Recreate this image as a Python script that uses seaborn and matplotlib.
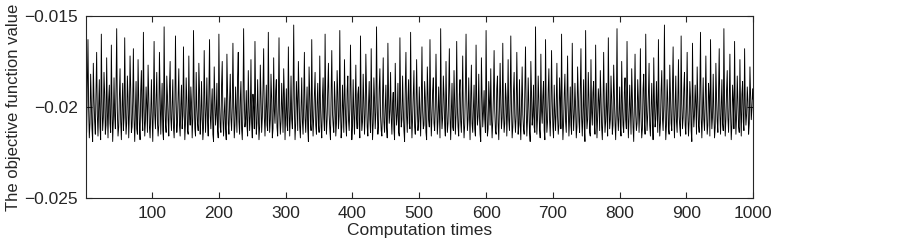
import numpy as np
import pandas as pd
import seaborn as sns
import matplotlib
matplotlib.use("Agg")
import matplotlib.pyplot as plt

# objective function value in units of -1e-4 (212 -> -0.0212)
obj_e4 = [
    205, 214, 188, 163, 201, 217, 209, 182, 198, 212, 219, 176, 195, 208, 215, 191, 170, 204, 216, 200, 185, 211, 218, 160, 197,
    213, 206, 181, 193, 215, 210, 173, 202, 217, 196, 188, 209, 214, 166, 199, 219, 207, 184, 205, 212, 190, 157, 203, 216, 211,
    194, 179, 208, 218, 200, 187, 213, 206, 162, 198, 215, 209, 183, 195, 217, 204, 172, 190, 214, 211, 197, 168, 207, 219, 202,
    186, 212, 215, 174, 196, 210, 218, 191, 180, 205, 213, 159, 200, 216, 208, 189, 199, 214, 177, 193, 211, 217, 203, 185, 206,
    219, 198, 164, 204, 212, 195, 181, 208, 216, 210, 170, 192, 215, 201, 187, 213, 218, 156, 197, 209, 214, 183, 194, 207, 216,
    190, 175, 206, 213, 199, 185, 211, 217, 203, 161, 196, 214, 208, 193, 179, 210, 216, 199, 188, 212, 205, 167, 201, 218, 209,
    184, 196, 213, 215, 172, 203, 210, 189, 198, 217, 206, 158, 194, 212, 216, 181, 200, 209, 213, 176, 191, 215, 207, 186, 204,
    218, 211, 169, 197, 214, 202, 184, 208, 216, 193, 163, 205, 212, 199, 190, 215, 219, 178, 196, 210, 204, 187, 213, 217, 160,
    199, 211, 214, 188, 175, 207, 216, 203, 195, 212, 218, 171, 192, 209, 215, 197, 182, 206, 213, 200, 165, 198, 217, 210, 189,
    203, 214, 183, 170, 208, 215, 196, 186, 212, 218, 202, 157, 195, 211, 207, 191, 210, 216, 180, 199, 213, 205, 174, 209, 217,
    193, 200, 212, 164, 197, 215, 209, 185, 203, 218, 211, 177, 194, 214, 206, 190, 168, 205, 216, 201, 188, 210, 213, 159, 198,
    214, 207, 182, 196, 217, 212, 173, 202, 209, 191, 185, 211, 216, 198, 162, 204, 215, 208, 187, 200, 214, 179, 193, 218, 205,
    190, 210, 213, 167, 199, 216, 204, 183, 207, 212, 195, 155, 201, 218, 209, 186, 196, 213, 175, 192, 211, 217, 200, 184, 208,
    215, 197, 170, 206, 214, 201, 189, 212, 219, 178, 194, 208, 213, 163, 202, 216, 205, 192, 181, 210, 215, 199, 187, 209, 214,
    172, 198, 211, 217, 195, 184, 206, 213, 160, 200, 215, 207, 190, 176, 204, 212, 218, 194, 169, 203, 210, 214, 186, 197, 216,
    209, 180, 193, 212, 205, 158, 199, 217, 211, 188, 202, 214, 174, 196, 209, 216, 191, 183, 207, 213, 201, 166, 195, 218, 210,
    185, 204, 215, 198, 177, 206, 212, 193, 189, 210, 217, 161, 200, 213, 208, 182, 197, 215, 204, 171, 192, 211, 216, 199, 186,
    207, 214, 168, 201, 218, 209, 184, 196, 212, 203, 156, 198, 215, 210, 190, 179, 205, 213, 216, 195, 173, 208, 214, 200, 188,
    211, 217, 165, 194, 209, 202, 181, 206, 215, 198, 192, 212, 218, 176, 199, 210, 204, 187, 214, 216, 162, 197, 211, 207, 183,
    200, 213, 219, 190, 170, 205, 214, 196, 185, 209, 212, 159, 201, 217, 206, 193, 180, 211, 215, 203, 174, 198, 213, 208, 189,
    204, 216, 197, 167, 202, 212, 210, 186, 195, 214, 218, 178, 193, 207, 211, 163, 199, 216, 205, 191, 184, 209, 213, 200, 171,
    196, 215, 208, 189, 203, 217, 157, 198, 212, 206, 183, 194, 210, 216, 175, 201, 214, 209, 192, 168, 205, 218, 202, 187, 211,
    213, 180, 197, 215, 204, 164, 200, 211, 216, 193, 185, 208, 214, 199, 172, 206, 217, 210, 190, 160, 196, 213, 207, 184, 203,
    218, 195, 177, 209, 214, 201, 188, 212, 216, 166, 198, 210, 205, 182, 204, 215, 219, 173, 194, 211, 203, 191, 207, 214, 158,
    199, 216, 212, 186, 197, 210, 179, 205, 217, 208, 194, 169, 202, 213, 215, 190, 183, 209, 218, 200, 176, 198, 212, 206, 165,
    201, 214, 209, 187, 195, 216, 203, 174, 207, 213, 198, 161, 200, 217, 211, 192, 181, 206, 214, 204, 170, 196, 215, 210, 185,
    209, 218, 197, 178, 204, 212, 215, 190, 167, 201, 216, 207, 184, 199, 213, 219, 175, 193, 210, 205, 188, 211, 214, 156, 198,
    215, 206, 183, 196, 212, 217, 171, 202, 209, 194, 186, 213, 218, 163, 200, 214, 208, 191, 179, 207, 216, 201, 169, 197, 211,
    217, 188, 204, 213, 199, 176, 205, 215, 210, 184, 196, 212, 160, 203, 218, 209, 193, 182, 208, 214, 197, 172, 201, 216, 206,
    189, 210, 215, 165, 198, 213, 204, 187, 200, 217, 211, 178, 194, 208, 214, 190, 168, 206, 216, 202, 185, 211, 219, 158, 199,
    212, 207, 181, 195, 214, 216, 174, 203, 210, 192, 186, 209, 215, 166, 201, 217, 205, 190, 197, 213, 180, 194, 211, 218, 202,
    170, 199, 214, 208, 187, 204, 216, 162, 198, 212, 207, 183, 196, 215, 210, 177, 193, 209, 218, 200, 157, 205, 213, 203, 189,
    211, 216, 175, 197, 210, 214, 192, 184, 207, 212, 164, 200, 217, 206, 188, 202, 215, 179, 195, 211, 219, 198, 171, 204, 213,
    209, 185, 196, 214, 201, 168, 206, 217, 212, 190, 182, 208, 215, 160, 199, 213, 204, 193, 176, 210, 216, 202, 187, 205, 218,
    173, 197, 211, 207, 186, 200, 214, 163, 203, 216, 209, 191, 180, 206, 213, 199, 155, 202, 218, 210, 185, 196, 212, 215, 177,
    194, 209, 213, 189, 167, 204, 217, 201, 183, 208, 214, 197, 174, 205, 211, 216, 161, 198, 212, 206, 190, 181, 210, 215, 199,
    170, 203, 216, 208, 186, 195, 213, 219, 165, 200, 211, 204, 188, 199, 215, 178, 196, 210, 214, 192, 159, 206, 217, 202, 184,
    207, 213, 198, 172, 201, 215, 210, 187, 194, 216, 163, 199, 212, 205, 182, 203, 217, 211, 176, 195, 208, 214, 190, 168, 204,
    215, 200, 185, 209, 213, 157, 197, 216, 207, 191, 180, 206, 214, 199, 171, 203, 218, 210, 188, 196, 212, 164, 201, 215, 205,
    183, 198, 211, 214, 174, 202, 216, 193, 186, 208, 213, 168, 199, 210, 204, 189, 197, 215, 209, 178, 194, 207, 201, 190, 196,
]
x_ticks = [100, 200, 300, 400, 500, 600, 700, 800, 900, 1000]
y_ticks = [-0.025, -0.02, -0.015]
y_labels = ["\u22120.025", "\u22120.02", "\u22120.015"]

df = pd.DataFrame({"times": np.arange(1, len(obj_e4) + 1),
                   "value": -np.array(obj_e4) / 1e4})

sns.set_style("ticks")
plt.rcParams["font.family"] = ["Liberation Sans", "DejaVu Sans"]
plt.rcParams["xtick.direction"] = "in"
plt.rcParams["ytick.direction"] = "in"

fig = plt.figure(figsize=(9.03, 2.45), dpi=100)
ax = fig.add_axes([0.0952, 0.192, 0.739, 0.743])
sns.lineplot(data=df, x="times", y="value", ax=ax, color="black", linewidth=0.65)

ax.set_xlim(1, 1000)
ax.set_ylim(-0.025, -0.015)
ax.set_xticks(x_ticks)
ax.set_yticks(y_ticks)
ax.set_yticklabels(y_labels)
ax.tick_params(labelsize=12.5, length=4, width=0.8, top=True, right=True, pad=6)
for s in ax.spines.values():
    s.set_linewidth(0.8)
ax.set_xlabel("Computation times", fontsize=12.5, labelpad=1)
ax.set_ylabel("The objective function value", fontsize=12, labelpad=2)

fig.savefig("out.png", dpi=100)
